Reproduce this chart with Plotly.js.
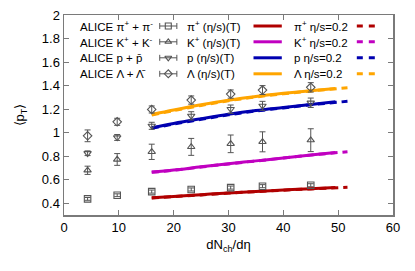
<!DOCTYPE html>
<html><head><meta charset="utf-8">
<script src="https://cdn.plot.ly/plotly-3.0.1.min.js"></script>
<style>html,body{margin:0;padding:0;background:#fff}#c{width:415px;height:271px}</style>
</head><body><div id="c"></div>
<script>
// ALICE data
const dataX = [4.3, 9.7, 16.0, 23.2, 30.4, 36.2, 45.0];
const pionY = [0.437, 0.468, 0.499, 0.517, 0.533, 0.545, 0.553];
const pionErr = [0.012, 0.012, 0.013, 0.013, 0.013, 0.013, 0.013];
const kaonY = [0.680, 0.772, 0.837, 0.879, 0.905, 0.922, 0.936];
const kaonErr = [0.035, 0.05, 0.065, 0.072, 0.075, 0.085, 0.097];
const protonY = [0.825, 0.959, 1.058, 1.143, 1.200, 1.228, 1.254];
const protonErr = [0.02, 0.025, 0.03, 0.035, 0.035, 0.038, 0.04];
const lambdaY = [0.973, 1.092, 1.197, 1.277, 1.328, 1.362, 1.385];
const lambdaErr = [0.05, 0.03, 0.03, 0.035, 0.035, 0.038, 0.04];

// model curves: (eta/s)(T) solid
const modelX = [16, 20, 25, 30, 35, 40, 45, 49.5];
const pionT = [0.447, 0.458, 0.473, 0.488, 0.500, 0.512, 0.523, 0.533];
const kaonT = [0.665, 0.682, 0.710, 0.736, 0.760, 0.785, 0.810, 0.832];
const protonT = [1.041, 1.078, 1.118, 1.156, 1.188, 1.214, 1.240, 1.262];
const lambdaT = [1.155, 1.193, 1.237, 1.276, 1.308, 1.334, 1.357, 1.376];
// model curves: eta/s = 0.2 dashed
const modelX2 = [16, 20, 25, 30, 35, 40, 45, 51.7];
const pion02 = [0.444, 0.456, 0.471, 0.486, 0.499, 0.511, 0.522, 0.536];
const kaon02 = [0.663, 0.680, 0.708, 0.734, 0.759, 0.784, 0.809, 0.838];
const proton02 = [1.037, 1.073, 1.113, 1.151, 1.184, 1.210, 1.237, 1.266];
const lambda02 = [1.150, 1.187, 1.231, 1.271, 1.303, 1.330, 1.354, 1.381];

const aliceNames = ["ALICE π<sup>+</sup> + π<sup>-</sup>", "ALICE K<sup>+</sup> + K<sup>-</sup>", "ALICE p + p̄", "ALICE Λ + Λ̄"];
const solidNames = ["π<sup>+</sup> (η/s)(T)", "K<sup>+</sup> (η/s)(T)", "p (η/s)(T)", "Λ (η/s)(T)"];
const dashNames = ["π<sup>+</sup> η/s=0.2", "K<sup>+</sup> η/s=0.2", "p η/s=0.2", "Λ η/s=0.2"];

const colors = ["#b00000", "#c000c0", "#0000b0", "#ffa500"];
const symbols = ["square-open", "triangle-up-open", "triangle-down-open", "diamond-open"];
const markColor = "#555555";

const dataY = [pionY, kaonY, protonY, lambdaY];
const dataE = [pionErr, kaonErr, protonErr, lambdaErr];
const solidY = [pionT, kaonT, protonT, lambdaT];
const dashY = [pion02, kaon02, proton02, lambda02];

const traces = [];
for (let i = 0; i < 4; i++) {
  traces.push({x: modelX2, y: dashY[i], mode: 'lines', line: {color: colors[i], width: 3, dash: '7px,5px', shape: 'spline'}, showlegend: false, hoverinfo: 'skip'});
  traces.push({x: modelX, y: solidY[i], mode: 'lines', line: {color: colors[i], width: 3, shape: 'spline'}, showlegend: false, hoverinfo: 'skip'});
}
for (let i = 0; i < 4; i++) {
  traces.push({x: dataX, y: dataY[i], mode: 'markers',
    marker: {symbol: symbols[i], size: 6.5, color: markColor, line: {width: 1.1, color: markColor}},
    error_y: {type: 'data', array: dataE[i], visible: true, color: markColor, thickness: 1, width: 3},
    showlegend: false});
}

// legend samples on a hidden overlay axis (0..1 over the plot area)
const rowY = [0.945, 0.866, 0.786, 0.706];
const annotations = [];
const legFont = {family: 'Liberation Sans, Arial, sans-serif', size: 11.5, color: '#000'};
for (let i = 0; i < 4; i++) {
  traces.push({x: [0.317], y: [rowY[i]], xaxis: 'x2', yaxis: 'y2', mode: 'markers',
    marker: {symbol: symbols[i], size: 6, color: markColor, line: {width: 1.1, color: markColor}},
    error_x: {type: 'constant', value: 0.026, visible: true, color: markColor, thickness: 1, width: 3},
    showlegend: false, hoverinfo: 'skip'});
  traces.push({x: [0.576, 0.662], y: [rowY[i], rowY[i]], xaxis: 'x2', yaxis: 'y2', mode: 'lines',
    line: {color: colors[i], width: 3}, showlegend: false, hoverinfo: 'skip'});
  traces.push({x: [0.890, 0.951], y: [rowY[i], rowY[i]], xaxis: 'x2', yaxis: 'y2', mode: 'lines',
    line: {color: colors[i], width: 3, dash: '6px,6px'}, showlegend: false, hoverinfo: 'skip'});
  annotations.push({xref: 'paper', yref: 'paper', x: 0.0417, y: rowY[i], xanchor: 'left', yanchor: 'middle', text: aliceNames[i], showarrow: false, font: legFont});
  annotations.push({xref: 'paper', yref: 'paper', x: 0.369, y: rowY[i], xanchor: 'left', yanchor: 'middle', text: solidNames[i], showarrow: false, font: legFont});
  annotations.push({xref: 'paper', yref: 'paper', x: 0.6925, y: rowY[i], xanchor: 'left', yanchor: 'middle', text: dashNames[i], showarrow: false, font: legFont});
}

const axisCommon = {showgrid: false, zeroline: false, showline: true, linecolor: '#7a7a7a', linewidth: 1.5,
  ticks: 'inside', ticklen: 5, tickcolor: '#7a7a7a', tickwidth: 1, mirror: 'ticks',
  tickfont: {family: 'Liberation Sans, Arial, sans-serif', size: 13, color: '#000'}};

const layout = {
  width: 415, height: 271,
  margin: {l: 63.5, r: 22, t: 15, b: 56.25},
  paper_bgcolor: '#fff', plot_bgcolor: '#fff',
  showlegend: false,
  xaxis: Object.assign({}, axisCommon, {range: [0, 60], tickvals: [0, 10, 20, 30, 40, 50, 60],
    title: {text: 'dN<sub>ch</sub>/dη', font: {family: 'Liberation Sans, Arial, sans-serif', size: 13, color: '#000'}, standoff: 6}}),
  yaxis: Object.assign({}, axisCommon, {range: [0.3, 2], tickvals: [0.4, 0.6, 0.8, 1, 1.2, 1.4, 1.6, 1.8, 2],
    title: {text: '⟨p<sub>T</sub>⟩', font: {family: 'Liberation Sans, Arial, sans-serif', size: 13, color: '#000'}, standoff: 14}}),
  xaxis2: {overlaying: 'x', range: [0, 1], visible: false, fixedrange: true},
  yaxis2: {overlaying: 'y', range: [0, 1], visible: false, fixedrange: true},
  annotations: annotations
};

Plotly.newPlot('c', traces, layout, {staticPlot: true, displayModeBar: false});
</script>
</body></html>
